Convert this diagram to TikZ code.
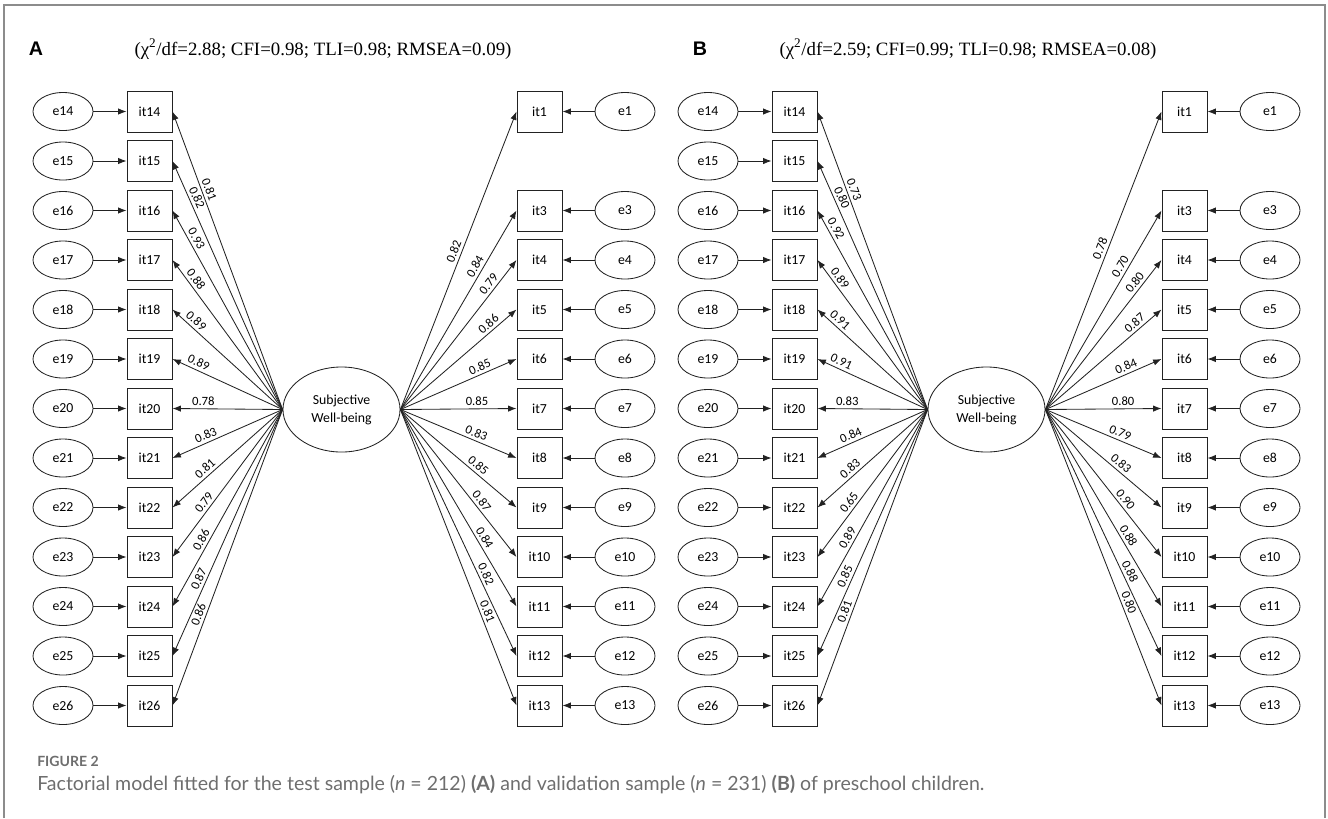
\documentclass[tikz,border=0pt]{standalone}
\usepackage{fontspec}
\setmainfont{Liberation Serif}
\setsansfont{Carlito}
\newfontfamily\capfont{Lato}
\newfontfamily\headfont{Liberation Sans}
\usetikzlibrary{arrows.meta,positioning,shapes.geometric}
\definecolor{framegray}{HTML}{8C8C8C}
\definecolor{capgray}{HTML}{6E6E6E}
\definecolor{semline}{HTML}{222222}
\tikzset{
  item/.style={draw=semline, line width=0.7pt, minimum width=1.125cm, minimum height=1.025cm, inner sep=0pt, font=\sffamily\fontsize{9.8}{11}\selectfont},
  errvar/.style={ellipse, draw=semline, line width=0.6pt, minimum width=1.5cm, minimum height=0.95cm, inner sep=0pt, font=\sffamily\fontsize{9.8}{11}\selectfont},
  latent/.style={ellipse, draw=semline, line width=0.6pt, minimum width=2.925cm, minimum height=2.125cm, inner sep=0pt, align=center, font=\sffamily\fontsize{9.8}{12.8}\selectfont},
  arrow/.style={-{Latex[length=2.1mm,width=1.6mm]}, line width=0.6pt, draw=semline},
  loadlabel/.style={sloped, above=1pt, inner sep=1pt, font=\sffamily\fontsize{9}{10}\selectfont},
  panel/.style={font=\headfont\bfseries\fontsize{14}{16}\selectfont},
  fitline/.style={font=\fontsize{13.4}{15}\selectfont}
}

\begin{document}
\begin{tikzpicture}[x=0.025cm, y=-0.025cm]
  \useasboundingbox (0,0) rectangle (1328,818);
  \draw[framegray, line width=1.2pt] (4,818) -- (4,5) -- (1325,5) -- (1325,818);

  \node[panel] (labA) at (36,49) {A};
  \node[fitline] (fitA) at (323,49) {(χ\textsuperscript{2}/df=2.88; CFI=0.98; TLI=0.98; RMSEA=0.09)};
  \node[latent] (A-swb) at (341.5,409.5) {Subjective\\Well-being};
  \foreach \i/\v/\p in {14/0.81/0.73, 15/0.82/0.84, 16/0.93/0.84, 17/0.88/0.84, 18/0.89/0.83, 19/0.89/0.79, 20/0.78/0.72, 21/0.83/0.67, 22/0.81/0.66, 23/0.79/0.66, 24/0.86/0.68, 25/0.87/0.70, 26/0.86/0.70} {
    \node[item] (A-it\i) at ({149.5},{111.5+49.5*(\i-14)}) {it\i};
    \node[errvar] (A-e\i) at ({63},{111.5+49.5*(\i-14)}) {e\i};
    \draw[arrow] (A-e\i.east) -- (A-it\i.west);
    \draw[arrow] (A-swb.west) -- node[loadlabel, pos=\p] {\v} (A-it\i.east);
  }
  \foreach \i/\v/\p in {1/0.82/0.52, 3/0.84/0.70, 4/0.79/0.81, 5/0.86/0.80, 6/0.85/0.71, 7/0.85/0.66, 8/0.83/0.63, 9/0.85/0.63, 10/0.87/0.65, 11/0.84/0.67, 12/0.82/0.68, 13/0.81/0.69} {
    \node[item] (A-it\i) at ({539.5},{111.5+49.5*(\i-1)}) {it\i};
    \node[errvar] (A-e\i) at ({625},{111.5+49.5*(\i-1)}) {e\i};
    \draw[arrow] (A-e\i.west) -- (A-it\i.east);
    \draw[arrow] (A-swb.east) -- node[loadlabel, pos=\p] {\v} (A-it\i.west);
  }

  \node[panel] (labB) at (700,49) {B};
  \node[fitline] (fitB) at (968,49) {(χ\textsuperscript{2}/df=2.59; CFI=0.99; TLI=0.98; RMSEA=0.08)};
  \node[latent] (B-swb) at (986.5,409.5) {Subjective\\Well-being};
  \foreach \i/\v/\p in {14/0.73/0.73, 15/0.80/0.84, 16/0.92/0.89, 17/0.89/0.85, 18/0.91/0.84, 19/0.91/0.81, 20/0.83/0.73, 21/0.84/0.67, 22/0.83/0.66, 23/0.65/0.66, 24/0.89/0.67, 25/0.85/0.69, 26/0.81/0.69} {
    \node[item] (B-it\i) at ({794.5},{111.5+49.5*(\i-14)}) {it\i};
    \node[errvar] (B-e\i) at ({708},{111.5+49.5*(\i-14)}) {e\i};
    \draw[arrow] (B-e\i.east) -- (B-it\i.west);
    \draw[arrow] (B-swb.west) -- node[loadlabel, pos=\p] {\v} (B-it\i.east);
  }
  \foreach \i/\v/\p in {1/0.78/0.53, 3/0.70/0.70, 4/0.80/0.82, 5/0.87/0.81, 6/0.84/0.72, 7/0.80/0.67, 8/0.79/0.62, 9/0.83/0.61, 10/0.90/0.64, 11/0.88/0.66, 12/0.88/0.67, 13/0.80/0.66} {
    \node[item] (B-it\i) at ({1184.5},{111.5+49.5*(\i-1)}) {it\i};
    \node[errvar] (B-e\i) at ({1270},{111.5+49.5*(\i-1)}) {e\i};
    \draw[arrow] (B-e\i.west) -- (B-it\i.east);
    \draw[arrow] (B-swb.east) -- node[loadlabel, pos=\p] {\v} (B-it\i.west);
  }

  \node[anchor=base west, inner sep=0pt, text=capgray, font=\capfont\bfseries\fontsize{10}{11}\selectfont] (figno) at (37,766) {FIGURE 2};
  \node[anchor=base west, inner sep=0pt, text=capgray, font=\capfont\fontsize{13.9}{16}\selectfont] (caption) at (37,790) {Factorial model fitted for the test sample (\textit{n} = 212) \textbf{(A)} and validation sample (\textit{n} = 231) \textbf{(B)} of preschool children.};
\end{tikzpicture}
\end{document}
